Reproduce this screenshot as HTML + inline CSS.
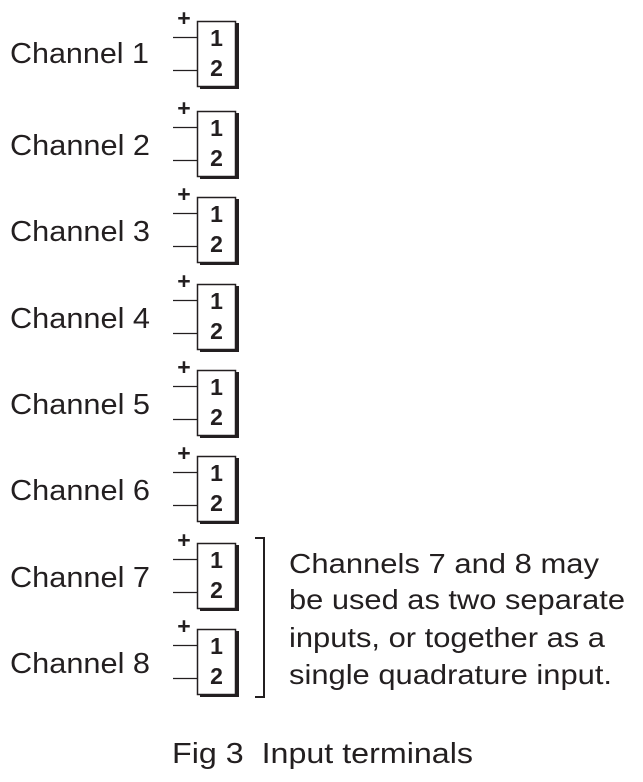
<!DOCTYPE html>
<html><head><meta charset="utf-8"><style>
html,body{margin:0;padding:0;background:#fff;}
svg{display:block;}
text{font-family:"Liberation Sans",Arial,sans-serif;fill:#231f20;}
</style></head><body>
<svg width="643" height="782" viewBox="0 0 643 782" xmlns="http://www.w3.org/2000/svg">
<defs>
<g id="term">
  <rect x="200" y="2" width="39" height="66" fill="#231f20"/>
  <rect x="197.5" y="0.5" width="38" height="65" fill="#fff" stroke="#231f20" stroke-width="1.5"/>
  <line x1="173" y1="16.5" x2="197" y2="16.5" stroke="#231f20" stroke-width="1.3"/>
  <line x1="173" y1="49.5" x2="197" y2="49.5" stroke="#231f20" stroke-width="1.3"/>
  <text x="184" y="5" font-size="23" font-weight="bold" text-anchor="middle">+</text>
  <text x="216.5" y="25" font-size="23" font-weight="bold" text-anchor="middle">1</text>
  <text x="216.5" y="55" font-size="23" font-weight="bold" text-anchor="middle">2</text>
</g>
</defs>
<use href="#term" x="0" y="21"/>
<use href="#term" x="0" y="111"/>
<use href="#term" x="0" y="197"/>
<use href="#term" x="0" y="284"/>
<use href="#term" x="0" y="370"/>
<use href="#term" x="0" y="456"/>
<use href="#term" x="0" y="543"/>
<use href="#term" x="0" y="629"/>
<g font-size="29">
<text x="10" y="63" textLength="139" lengthAdjust="spacingAndGlyphs">Channel 1</text>
<text x="10" y="155" textLength="140" lengthAdjust="spacingAndGlyphs">Channel 2</text>
<text x="10" y="241" textLength="140" lengthAdjust="spacingAndGlyphs">Channel 3</text>
<text x="10" y="328" textLength="140" lengthAdjust="spacingAndGlyphs">Channel 4</text>
<text x="10" y="414" textLength="140" lengthAdjust="spacingAndGlyphs">Channel 5</text>
<text x="10" y="500" textLength="140" lengthAdjust="spacingAndGlyphs">Channel 6</text>
<text x="10" y="587" textLength="140" lengthAdjust="spacingAndGlyphs">Channel 7</text>
<text x="10" y="673" textLength="140" lengthAdjust="spacingAndGlyphs">Channel 8</text>
</g>
<polyline points="255,538 264,538 264,697 255,697" fill="none" stroke="#231f20" stroke-width="2"/>
<g font-size="28">
<text x="289" y="573" textLength="310" lengthAdjust="spacingAndGlyphs">Channels 7 and 8 may</text>
<text x="289" y="609" textLength="336" lengthAdjust="spacingAndGlyphs">be used as two separate</text>
<text x="289" y="647" textLength="316" lengthAdjust="spacingAndGlyphs">inputs, or together as a</text>
<text x="289" y="684" textLength="323" lengthAdjust="spacingAndGlyphs">single quadrature input.</text>
</g>
<text x="172" y="763" font-size="29" textLength="301" lengthAdjust="spacingAndGlyphs" xml:space="preserve">Fig 3  Input terminals</text>
</svg>
</body></html>
